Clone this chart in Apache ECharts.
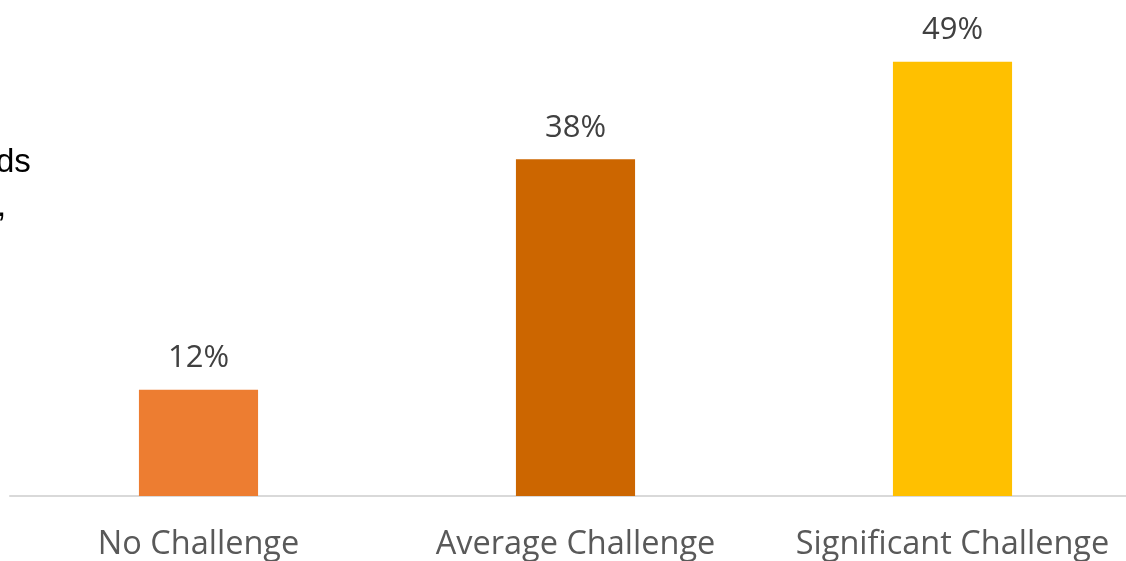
<!DOCTYPE html>
<html>
<head>
<meta charset="utf-8">
<script src="https://cdn.jsdelivr.net/npm/echarts@6/dist/echarts.min.js"></script>
<style>
  html, body { margin: 0; padding: 0; background: #ffffff; overflow: hidden; }
  /* canvas is a little wider than the window so the plot runs past the right edge */
  #chart { width: 1145px; height: 561px; }
</style>
</head>
<body>
<div id="chart"></div>
<script>
// Share of respondents by challenge level
const categories = ['No Challenge', 'Average Challenge', 'Significant Challenge'];
const values = [12, 38, 49];
const barColors = ['#ED7D31', '#CC6600', '#FFC000'];

const chart = echarts.init(document.getElementById('chart'));

chart.setOption({
  animation: false,
  backgroundColor: '#ffffff',
  grid: { left: 10, right: 4, top: 53, bottom: 64, containLabel: false },
  xAxis: {
    type: 'category',
    data: categories,
    axisLine: { show: true, lineStyle: { color: '#D9D9D9', width: 2 } },
    axisTick: { show: false },
    axisLabel: {
      interval: 0,
      color: '#595959',
      fontFamily: 'Open Sans',
      fontSize: 32.5,
      margin: 32
    }
  },
  yAxis: {
    type: 'value',
    min: 0,
    max: 50,
    show: false,
    splitLine: { show: false }
  },
  series: [{
    type: 'bar',
    data: values.map((v, i) => ({ value: v, itemStyle: { color: barColors[i] } })),
    barWidth: '31.6%',
    label: {
      show: true,
      position: 'top',
      distance: 16,
      formatter: '{c}%',
      color: '#404040',
      fontFamily: 'Open Sans',
      fontSize: 31
    }
  }],
  graphic: [
    {
      type: 'text',
      left: -4,
      top: 146,
      style: { text: 'ds', fontFamily: 'Liberation Sans', fontSize: 33, fill: '#000000' }
    },
    {
      type: 'text',
      left: -3,
      top: 190,
      style: { text: ',', fontFamily: 'Liberation Sans', fontSize: 33, fill: '#000000' }
    }
  ]
});
</script>
</body>
</html>
